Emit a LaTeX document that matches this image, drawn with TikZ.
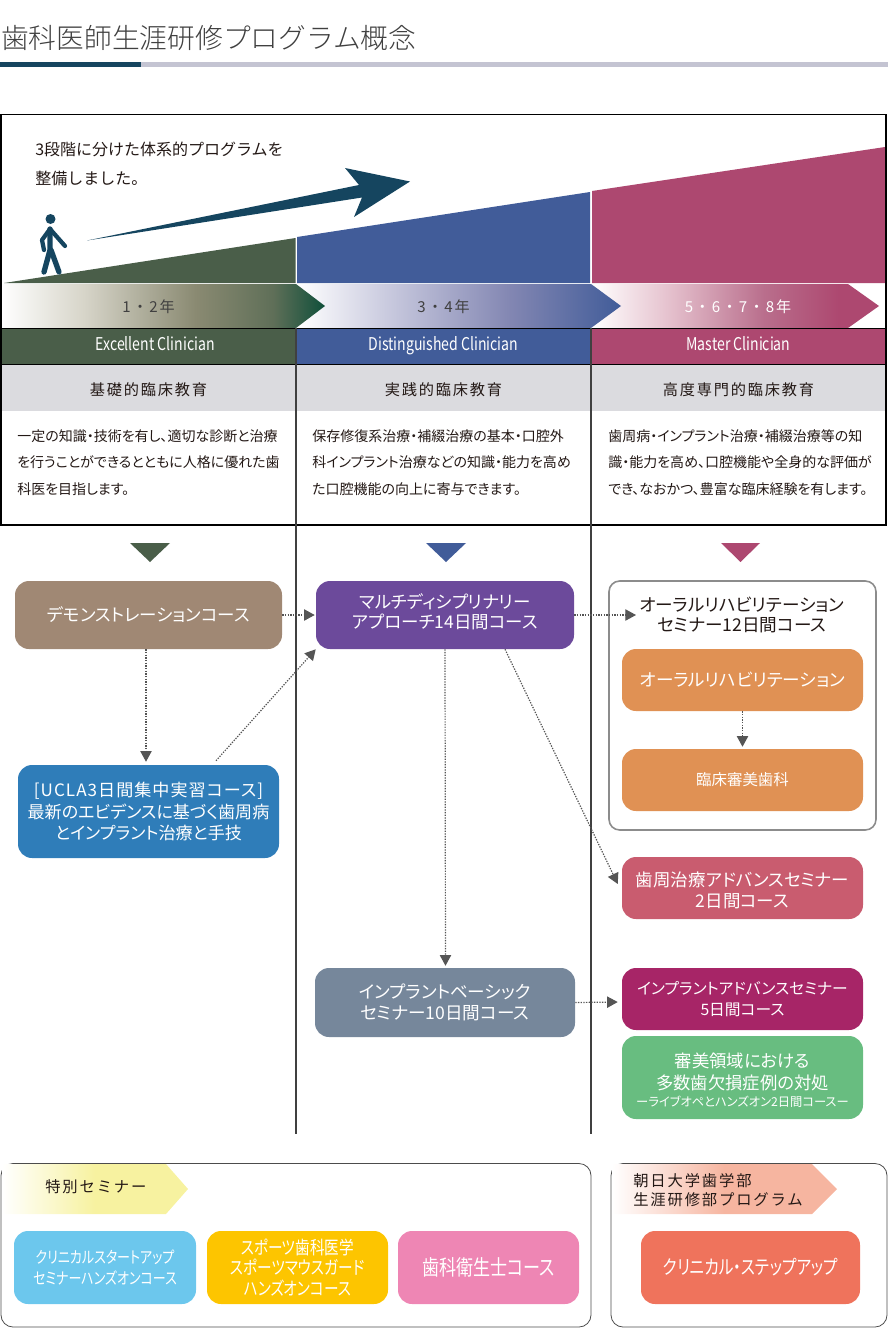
\documentclass[tikz,border=0pt]{standalone}
\usepackage{fontspec}
\setmainfont{Noto Sans CJK JP}
\newfontfamily\jpp[RawFeature=+palt]{Noto Sans CJK JP}
\newfontfamily\jplight{Noto Sans CJK JP Light}
\newfontfamily\jps[LetterSpace=12]{Noto Sans CJK JP}
\newfontfamily\jpw[RawFeature=+palt,LetterSpace=6]{Noto Sans CJK JP}
\newfontfamily\jpc[RawFeature=+palt,FakeStretch=0.8]{Noto Sans CJK JP}
\usetikzlibrary{arrows.meta,calc}
\definecolor{ink}{HTML}{231815}
\definecolor{teal}{HTML}{15455F}
\definecolor{cgreen}{HTML}{4A5E49}
\definecolor{cblue}{HTML}{415C99}
\definecolor{cmag}{HTML}{AD4870}
\definecolor{band}{HTML}{DBDBDF}
\definecolor{arr}{HTML}{555555}
\definecolor{rulegrey}{HTML}{C4C4D2}
\definecolor{gA}{HTML}{0F4F3A}
\definecolor{gA1}{HTML}{D6D4C8}
\definecolor{gA2}{HTML}{8A8A72}
\definecolor{gA3}{HTML}{5F6F58}
\definecolor{gB1}{HTML}{C5C6DC}
\definecolor{gB2}{HTML}{8286B2}
\definecolor{gC1}{HTML}{E6C3CF}
\definecolor{gC2}{HTML}{B96E8C}
\definecolor{gY}{HTML}{F7F2A0}
\definecolor{gP}{HTML}{F6B5A0}
\definecolor{bDemo}{HTML}{A08874}
\definecolor{bMulti}{HTML}{6C4A9B}
\definecolor{bUcla}{HTML}{2F7DB9}
\definecolor{bOral}{HTML}{E09154}
\definecolor{bPerio}{HTML}{C95C6F}
\definecolor{bBasic}{HTML}{76879B}
\definecolor{bAdv}{HTML}{A72567}
\definecolor{bEsth}{HTML}{68BD80}
\definecolor{bStart}{HTML}{6CC7ED}
\definecolor{bSport}{HTML}{FDC500}
\definecolor{bHyg}{HTML}{EE86B4}
\definecolor{bStep}{HTML}{EF735C}
\pgfdeclarehorizontalshading{shA}{100bp}{color(0bp)=(white);color(25bp)=(white);color(38bp)=(gA1);color(55bp)=(gA2);color(67bp)=(gA3);color(75bp)=(gA);color(100bp)=(gA)}
\pgfdeclarehorizontalshading{shB}{100bp}{color(0bp)=(white);color(25bp)=(white);color(40bp)=(gB1);color(58bp)=(gB2);color(75bp)=(cblue);color(100bp)=(cblue)}
\pgfdeclarehorizontalshading{shC}{100bp}{color(0bp)=(white);color(25bp)=(white);color(38bp)=(gC1);color(55bp)=(gC2);color(68bp)=(cmag);color(75bp)=(cmag);color(100bp)=(cmag)}
\pgfdeclarehorizontalshading{shY}{100bp}{color(0bp)=(white);color(25bp)=(white);color(50bp)=(gY);color(75bp)=(gY);color(100bp)=(gY)}
\pgfdeclarehorizontalshading{shP}{100bp}{color(0bp)=(white);color(25bp)=(white);color(50bp)=(gP);color(75bp)=(gP);color(100bp)=(gP)}
\newcommand{\pbox}[7]{%
  \pgfmathsetmacro\pcx{(#2+#4)/2}\pgfmathsetmacro\pcy{(#3+#5)/2}%
  \pgfmathsetmacro\pww{(#4-#2)*0.75}\pgfmathsetmacro\phh{(#5-#3)*0.75}%
  \node[#6,minimum width=\pww pt,minimum height=\phh pt,inner sep=0pt] (#1) at (\pcx,\pcy) {#7};}
\newcommand{\dnsh}{\rule{0pt}{15pt}}
\newcommand{\upsh}{\rule[-6pt]{0pt}{1pt}}
\newcommand{\edlabel}[1]{\raisebox{-6.3pt}[0pt][0pt]{#1}}
\tikzset{
  course/.style={rounded corners=10.5pt,align=center,text=white,font=\jpp\fontsize{13.1}{15.6}\selectfont},
  courseC/.style={rounded corners=10.5pt,align=center,text=white,font=\jpc\fontsize{12.2}{15.5}\selectfont},
  flow/.style={draw=arr,line width=0.9pt,dash pattern=on 1pt off 1pt,-{Triangle[length=8pt,width=8.5pt,fill=arr]}},
  levelband/.style={align=center,text=white,text height=9.5pt,text depth=2.8pt,font=\jpc\fontsize{13.2}{15}\selectfont},
  greyband/.style={fill=band,align=center,text=ink,font=\jps\fontsize{11.4}{14}\selectfont},
  bodytext/.style={anchor=north west,align=left,text=ink,inner sep=0pt,font=\jpp\fontsize{10.5}{20}\selectfont},
  yeartext/.style={font=\jps\fontsize{11.3}{14}\selectfont,inner sep=0pt},
  headtext/.style={anchor=west,align=left,text=ink,inner sep=0pt,font=\jps\fontsize{11.5}{14.2}\selectfont},
  frameline/.style={draw=black,line width=0.9pt},
  softframe/.style={draw=black!70,line width=0.6pt,rounded corners=9pt},
  oralbox/.style={draw=black!45,line width=1.2pt,rounded corners=8pt},
}
\begin{document}
\begin{tikzpicture}[x=0.75pt,y=-0.75pt]
\useasboundingbox (0,0) rectangle (888,1328);
% title
\node[anchor=west,inner sep=0pt,text=black!75,font=\jplight\fontsize{20.8}{24}\selectfont] (title) at (1,38) {歯科医師生涯研修プログラム概念};
\fill[teal] (0,62) rectangle (141,67);
\fill[rulegrey] (141,62) rectangle (888,67);
% stair wedges
\fill[cgreen] (4,283) -- (295.5,238) -- (295.5,283) -- cycle;
\fill[cblue] (297,237) -- (590,192) -- (590,283) -- (297,283) -- cycle;
\fill[cmag] (592,191) -- (885,147) -- (885,283) -- (592,283) -- cycle;
% year arrows
\shade[shading=shC] (592,284) -- (848,284) -- (879,306) -- (848,328) -- (592,328) -- cycle;
\shade[shading=shB] (297,284) -- (591,284) -- (621,306) -- (591,328) -- (297,328) -- cycle;
\shade[shading=shA] (1,284) -- (296,284) -- (325,306) -- (296,328) -- (1,328) -- cycle;
\node[yeartext,text=black!75] (y1) at (148.5,307) {1・2年};
\node[yeartext,text=black!75] (y2) at (443.5,307) {3・4年};
\node[yeartext,text=white] (y3) at (738,307) {5・6・7・8年};
% bands
\pbox{lv1}{1}{328}{296}{364}{levelband,fill=cgreen}{\hspace{10pt}Excellent Clinician}
\pbox{lv2}{296}{328}{591}{364}{levelband,fill=cblue}{Distinguished Clinician}
\pbox{lv3}{591}{328}{886}{364}{levelband,fill=cmag}{Master Clinician}
\pbox{ed1}{1}{364}{296}{411}{greyband}{\edlabel{基礎的臨床教育}}
\pbox{ed2}{296}{364}{591}{411}{greyband}{\edlabel{実践的臨床教育}}
\pbox{ed3}{591}{364}{886}{411}{greyband}{\edlabel{高度専門的臨床教育}}
\draw[black,line width=0.6pt] (1,328) -- (886,328);
\draw[black,line width=0.6pt] (1,364) -- (886,364);
% body text
\node[bodytext] (tx1) at (17,429) {一定の知識・技術を有し、適切な診断と治療\\を行うことができるとともに人格に優れた歯\\科医を目指します。};
\node[bodytext] (tx2) at (312,429) {保存修復系治療・補綴治療の基本・口腔外\\科インプラント治療などの知識・能力を高め\\た口腔機能の向上に寄与できます。};
\node[bodytext] (tx3) at (608,429) {歯周病・インプラント治療・補綴治療等の知\\識・能力を高め、口腔機能や全身的な評価が\\でき、なおかつ、豊富な臨床経験を有します。};
% frame
\draw[frameline] (1,114.5) rectangle (886,525);
\draw[black!75,line width=0.9pt] (296,328) -- (296,1134);
\draw[black!75,line width=0.9pt] (591,328) -- (591,1134);
% lead
\node[anchor=north west,align=left,inner sep=0pt,text=ink,font=\fontsize{12}{21.8}\selectfont] (lead) at (35,142) {3段階に分けた体系的プログラムを\\整備しました。};
% big arrow
\fill[teal] (87,240.5) -- (359,185) -- (345,168) -- (410,181.5) -- (354,217) -- (362,197.5) -- cycle;
% person
\fill[teal] (50.5,219) circle (5);
\draw[teal,line width=4pt,line cap=round,line join=round] (50,229) -- (50,250) -- (44,272);
\draw[teal,line width=4pt,line cap=round,line join=round] (51,250) -- (59,272);
\draw[teal,line width=3.2pt,line cap=round,line join=round] (50,229) -- (65,246);
\draw[teal,line width=3.2pt,line cap=round,line join=round] (50,229) -- (42,240) -- (44,250);
% triangles
\fill[cgreen] (130,543) -- (170,543) -- (150,562) -- cycle;
\fill[cblue] (426,543) -- (466,543) -- (446,562) -- cycle;
\fill[cmag] (721,543) -- (760,543) -- (740.5,562) -- cycle;
% oral frame
\pbox{oralframe}{609}{581}{876}{830}{oralbox,fill=white}{}
\node[anchor=center,align=center,inner sep=0pt,text=ink,font=\jpp\fontsize{13.2}{15.2}\selectfont] (oraltitle) at (742,615) {オーラルリハビリテーション\\セミナー12日間コース};
% course boxes
\pbox{demo}{15}{581}{282}{649}{course,fill=bDemo}{デモンストレーションコース}
\pbox{multi}{316}{581}{574}{649}{course,fill=bMulti}{マルチディシプリナリー\\アプローチ14日間コース\upsh}
\pbox{ucla}{18}{765}{279}{858}{course,fill=bUcla,font=\jpp\fontsize{12.8}{15.8}\selectfont}{{\jpw [UCLA3日間集中実習コース]}\\最新のエビデンスに基づく歯周病\\とインプラント治療と手技}
\pbox{oral}{622}{649}{863}{711}{course,fill=bOral,font=\jpp\fontsize{13.2}{16}\selectfont}{オーラルリハビリテーション}
\pbox{clin}{622}{749}{863}{811}{course,fill=bOral,font=\jpp\fontsize{11.6}{14}\selectfont}{臨床審美歯科}
\pbox{perio}{622}{857}{863}{919}{course,fill=bPerio}{\dnsh 歯周治療アドバンスセミナー\\2日間コース}
\pbox{basic}{315}{968}{575}{1037}{course,fill=bBasic,font=\jpp\fontsize{13.2}{15.6}\selectfont}{インプラントベーシック\hspace{6pt}\\セミナー10日間コース\hspace{6pt}}
\pbox{adv}{622}{968}{863}{1030}{course,fill=bAdv,font=\jpp\fontsize{11.8}{16}\selectfont}{インプラントアドバンスセミナー\\5日間コース}
\pbox{esth}{622}{1036}{863}{1119}{course,fill=bEsth,font=\jpp\fontsize{13}{16}\selectfont}{\dnsh 審美領域における\\多数歯欠損症例の対処\\[-3pt]{\fontsize{9.2}{10}\selectfont ーライブオペとハンズオン2日間コースー}}
% connectors
\coordinate (oralin) at (636,615);
\draw[flow] (demo.east) -- ($(multi.west)+(-1,0)$);
\draw[flow] ($(demo.south)+(-2.5,0)$) -- ($(ucla.north)+(-2.5,-3)$);
\draw[flow] ($(ucla.north)+(67.5,-4)$) -- (multi.south west);
\draw[flow] (multi.east) -- (oralin);
\draw[flow] ($(multi.south)+(60,0)$) -- ($(perio.west)+(-4,-4)$);
\draw[flow] (multi.south) -- ($(basic.north)+(0.5,-2)$);
\draw[flow] (basic.east) -- ($(adv.west)+(-4,3)$);
\draw[flow] (oral.south) -- ($(clin.north)+(0,-2)$);
% bottom frames
\pbox{frameL}{1}{1163.5}{591}{1327}{softframe}{}
\pbox{frameR}{611}{1163.5}{887}{1327}{softframe}{}
\shade[shading=shY] (2,1164) -- (166,1164) -- (188,1189) -- (166,1214) -- (2,1214) -- cycle;
\shade[shading=shP] (612,1164) -- (812,1164) -- (837,1189) -- (812,1214) -- (612,1214) -- cycle;
\node[headtext] (sp) at (45,1187) {特別セミナー};
\node[headtext] (as) at (633,1190) {朝日大学歯学部\\生涯研修部プログラム};
\pbox{start}{14}{1231}{196}{1304}{courseC,fill=bStart}{クリニカルスタートアップ\\セミナーハンズオンコース}
\pbox{sport}{207}{1231}{388}{1304}{courseC,fill=bSport,font=\jpc\fontsize{13.7}{15.5}\selectfont}{スポーツ歯科医学\\スポーツマウスガード\\ハンズオンコース}
\pbox{hyg}{398}{1231}{579}{1304}{courseC,fill=bHyg,font=\jpc\fontsize{16}{18}\selectfont}{歯科衛生士コース}
\pbox{stepup}{641}{1231}{860}{1304}{courseC,fill=bStep,font=\jpc\fontsize{14.7}{18}\selectfont}{クリニカル・ステップアップ}
\end{tikzpicture}
\end{document}
